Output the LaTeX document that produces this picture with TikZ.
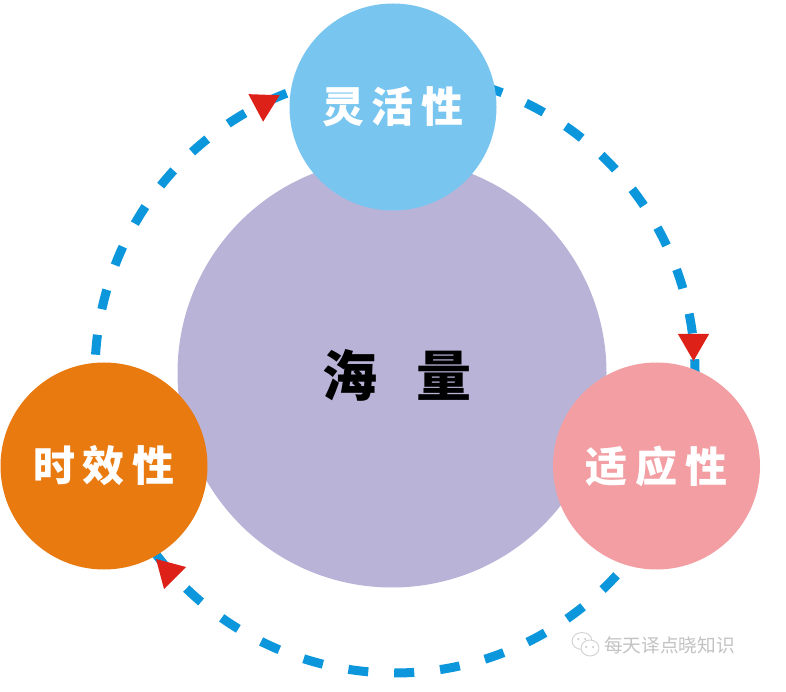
\documentclass[tikz,border=0pt]{standalone}
\usepackage{fontspec}
\usepackage{tikz}
\usetikzlibrary{shapes.geometric}
\newfontfamily\cjk{Noto Sans CJK SC}[BoldFont={Noto Sans CJK SC Black}]
\definecolor{bigc}{HTML}{BAB3D8}
\definecolor{topc}{HTML}{78C5F0}
\definecolor{leftc}{HTML}{E87A10}
\definecolor{rightc}{HTML}{F29EA3}
\definecolor{dashc}{HTML}{0C96DC}
\definecolor{tipc}{HTML}{DE2118}
\tikzset{
	ball/.style={shape=circle, minimum size=207pt, inner sep=0pt, text=white, font=\cjk\bfseries\fontsize{42}{42}\selectfont},
	ringarc/.style={draw=dashc, line width=9pt, dash pattern=on 20pt off 26pt},
	tipmark/.style={shape=regular polygon, regular polygon sides=3, minimum size=36pt, inner sep=0pt, fill=tipc},
	iconpart/.style={draw=black!18, fill=white, line width=0.9pt}
}
\begin{document}
\begin{tikzpicture}[x=1pt,y=1pt]
	\useasboundingbox (0,0) rectangle (786,691);
	\coordinate (ring) at (395,318);
	\coordinate (rightstart) at ([shift={(72.9:300)}]ring);
	\coordinate (bottomstart) at ([shift={(-42.4:300)}]ring);
	\coordinate (leftstart) at ([shift={(176.5:300)}]ring);
	
	\draw[ringarc] (rightstart) arc[start angle=72.9, end angle=-2, radius=300];
	\draw[ringarc] (bottomstart) arc[start angle=-42.4, end angle=-143, radius=300];
	\draw[ringarc] (leftstart) arc[start angle=176.5, end angle=111, radius=300];
	
	\node[shape=circle, minimum size=429pt, inner sep=0pt, fill=bigc, font=\cjk\bfseries\fontsize{55}{55}\selectfont] (massive) at (392,318) {};
	\node[font=\cjk\bfseries\fontsize{55}{55}\selectfont, inner sep=0pt] (massivetext) at (397,316) {海\hspace{39pt}量};
	\node[ball, fill=topc] (flexible) at (393,584) {灵\hspace{8pt}活\hspace{8pt}性};
	\node[ball, fill=leftc] (timely) at (104,225) {时\hspace{8pt}效\hspace{8pt}性};
	\node[ball, fill=rightc] (adaptive) at (656.5,225) {适\hspace{8pt}应\hspace{8pt}性};
	
	\node[tipmark, rotate=180] (tipright) at (693.5,348) {};
	\node[tipmark, rotate=45] (tipbottom) at (168.7,119.3) {};
	\node[tipmark, rotate=178] (tipleft) at (263.7,587.3) {};
	
	% watermark
	\draw[iconpart] (582,50) circle[x radius=10, y radius=8.5];
	\draw[iconpart] (590,43) circle[x radius=9, y radius=8];
	\fill[black!25] (586,44) circle (1pt) (593,44) circle (1pt) (578,52) circle (1pt) (585,52) circle (1pt);
	\node[text=black!24, font=\cjk\fontsize{18.7}{19}\selectfont, inner sep=0pt] (mark) at (669.5,46) {每天译点晓知识};
\end{tikzpicture}
\end{document}
